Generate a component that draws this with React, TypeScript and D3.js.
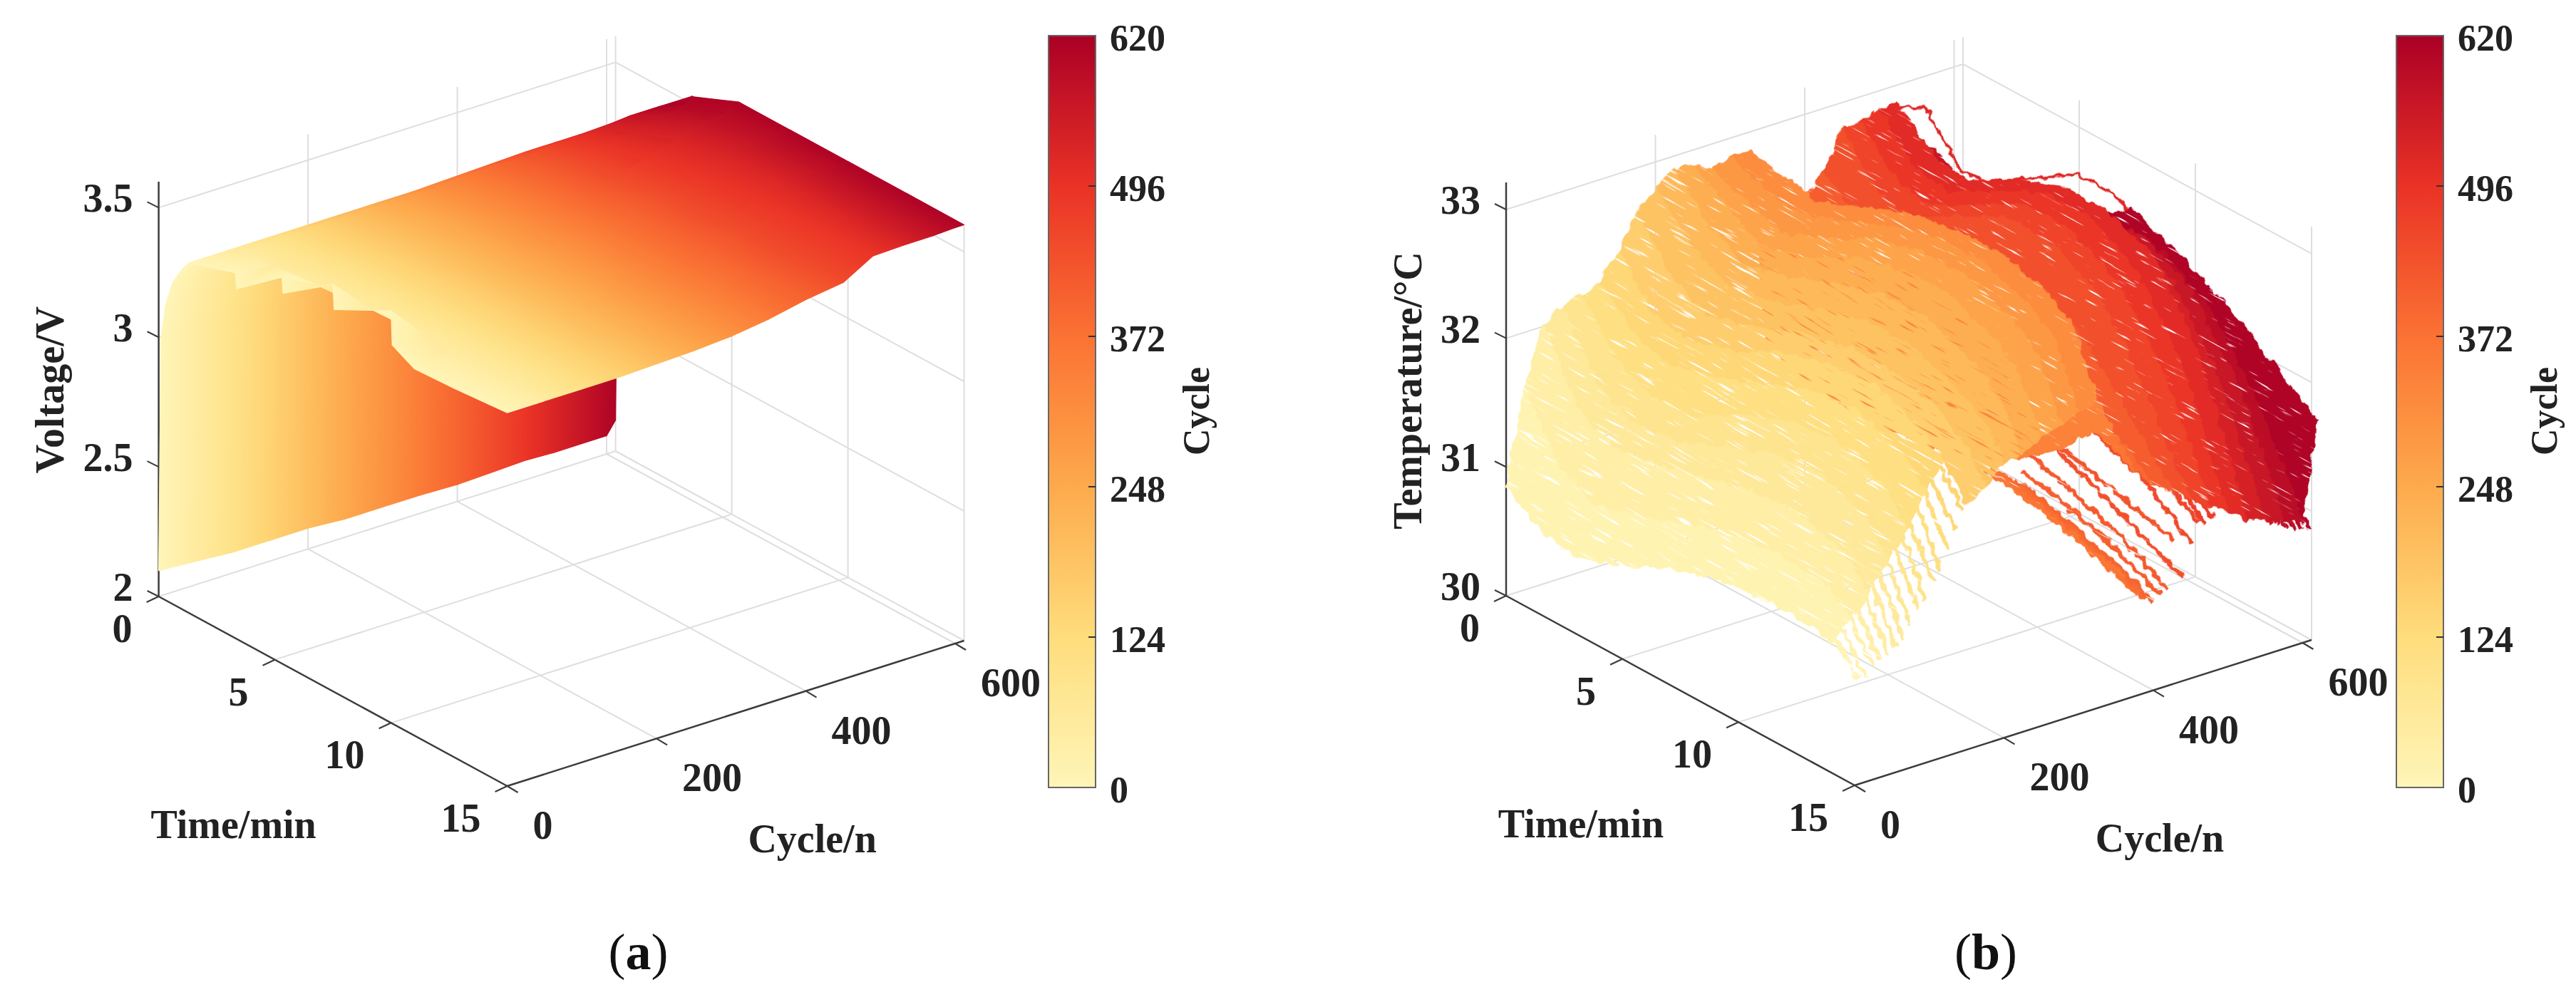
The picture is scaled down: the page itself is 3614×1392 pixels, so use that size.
import React from 'react';
import * as d3 from 'd3';

// tick labels
const timeTicks = [0, 5, 10, 15];
const cycleTicks = [0, 200, 400, 600];
const voltTicks = [2, 2.5, 3, 3.5];
const tempTicks = [30, 31, 32, 33];
const barTicks = [0, 124, 248, 372, 496, 620];
const barColors = ['#fff5b8', '#fedd7c', '#fdaa4c', '#fb7233', '#ea3226', '#ab0026'];

// (a) voltage surface, one row per cycle
const voltTimes = [0, 0.1, 0.3, 0.6, 1, 1.3, 2, 3.3, 3.35, 5.3, 5.35, 7.5, 7.55, 10, 10.05, 11, 12.75, 15];
const voltCycles = [0, 50, 100, 150, 200, 250, 300, 350, 400, 450, 490, 530, 570, 600, 612];
const voltRows = [
  [2.10, 3.00, 3.14, 3.24, 3.31, 3.35, 3.37, 3.41, 3.35, 3.49, 3.43, 3.57, 3.475, 3.59, 3.46, 3.415, 3.423, 3.44],
  [2.09, 3.00, 3.14, 3.24, 3.31, 3.35, 3.38, 3.39, 3.39, 3.41, 3.41, 3.43, 3.43, 3.44, 3.44, 3.44, 3.44, 3.44],
  [2.08, 2.98, 3.13, 3.24, 3.31, 3.35, 3.39, 3.40, 3.40, 3.42, 3.42, 3.43, 3.43, 3.44, 3.44, 3.44, 3.44, 3.44],
  [2.08, 2.98, 3.13, 3.24, 3.31, 3.35, 3.39, 3.40, 3.40, 3.42, 3.42, 3.43, 3.43, 3.44, 3.44, 3.44, 3.44, 3.44],
  [2.08, 2.98, 3.13, 3.24, 3.31, 3.35, 3.39, 3.405, 3.405, 3.42, 3.42, 3.43, 3.43, 3.44, 3.44, 3.44, 3.445, 3.445],
  [2.07, 2.97, 3.12, 3.23, 3.31, 3.35, 3.39, 3.41, 3.41, 3.43, 3.43, 3.44, 3.44, 3.45, 3.45, 3.45, 3.45, 3.45],
  [2.07, 2.97, 3.12, 3.23, 3.31, 3.35, 3.39, 3.41, 3.41, 3.43, 3.43, 3.45, 3.45, 3.455, 3.455, 3.455, 3.46, 3.46],
  [2.07, 2.97, 3.12, 3.23, 3.31, 3.355, 3.40, 3.42, 3.42, 3.44, 3.44, 3.46, 3.46, 3.47, 3.47, 3.47, 3.48, 3.48],
  [2.065, 2.96, 3.11, 3.22, 3.30, 3.36, 3.40, 3.43, 3.43, 3.45, 3.45, 3.48, 3.48, 3.49, 3.49, 3.50, 3.50, 3.51],
  [2.07, 2.96, 3.11, 3.22, 3.30, 3.365, 3.41, 3.44, 3.44, 3.47, 3.47, 3.50, 3.50, 3.52, 3.52, 3.525, 3.53, 3.53],
  [2.075, 2.95, 3.10, 3.22, 3.30, 3.365, 3.415, 3.45, 3.45, 3.50, 3.50, 3.54, 3.54, 3.57, 3.57, 3.58, 3.59, 3.596],
  [2.07, 2.95, 3.10, 3.22, 3.30, 3.365, 3.42, 3.47, 3.47, 3.54, 3.54, 3.58, 3.58, 3.60, 3.60, 3.60, 3.60, 3.60],
  [2.07, 2.95, 3.10, 3.21, 3.29, 3.37, 3.43, 3.49, 3.49, 3.56, 3.56, 3.59, 3.59, 3.60, 3.60, 3.60, 3.60, 3.60],
  [2.07, 2.95, 3.10, 3.21, 3.29, 3.37, 3.43, 3.50, 3.50, 3.585, 3.585, 3.60, 3.60, 3.60, 3.60, 3.60, 3.60, 3.604],
  [2.12, 2.95, 3.10, 3.20, 3.28, 3.34, 3.43, 3.53, 3.53, 3.605, 3.605, 3.605, 3.605, 3.605, 3.605, 3.605, 3.605, 3.604],
];

// (b) temperature curves, one row per cycle group
const tempTimes = [0, 1.5, 3, 5, 7, 9, 11, 13, 14, 15];
const tempCycles = [0, 25, 50, 75, 100, 125, 150, 175, 200, 225, 250, 275, 300, 325, 350, 375, 400, 425, 450, 475, 500, 525, 550, 575, 600, 620];
const tempRows = [
  [30.85, 30.65, 30.6, 30.72, 30.9, 31.02, 31.06, 31.06, 31.0, 30.8],
  [31.55, 31.1, 30.95, 31.05, 31.2, 31.3, 31.35, 31.3, 31.15, 30.88],
  [32.0, 31.5, 31.35, 31.4, 31.5, 31.6, 31.62, 31.5, 31.3, 30.95],
  [32.1, 31.65, 31.5, 31.55, 31.7, 31.85, 31.9, 31.75, 31.5, 31.1],
  [32.15, 31.8, 31.65, 31.7, 31.9, 32.05, 32.1, 31.95, 31.7, 31.3],
  [32.2, 31.95, 31.85, 31.95, 32.1, 32.25, 32.3, 32.15, 31.95, 31.6],
  [32.4, 32.05, 32.0, 32.1, 32.3, 32.4, 32.45, 32.3, 32.15, 31.9],
  [32.65, 32.3, 32.15, 32.25, 32.4, 32.5, 32.5, 32.4, 32.25, 32.0],
  [32.8, 32.5, 32.35, 32.4, 32.55, 32.65, 32.65, 32.5, 32.4, 32.14],
  [32.9, 32.6, 32.45, 32.55, 32.7, 32.8, 32.8, 32.65, 32.5, 32.15],
  [32.88, 32.7, 32.55, 32.65, 32.85, 32.95, 32.95, 32.8, 32.65, 32.25],
  [32.8, 32.7, 32.6, 32.75, 32.95, 33.05, 33.05, 32.9, 32.75, 32.3],
  [32.85, 32.75, 32.7, 32.85, 33.0, 33.1, 33.1, 32.95, 32.8, 32.35],
  [32.85, 32.8, 32.75, 32.9, 33.05, 33.12, 33.12, 33.0, 32.85, 32.4],
  [31.3, 31.2, 31.15, 31.15, 31.2, 31.3, 31.5, 31.8, 32.0, 32.07],
  [31.9, 31.7, 31.6, 31.6, 31.65, 31.75, 31.85, 31.9, 31.85, 31.75],
  [32.35, 32.1, 32.0, 32.05, 32.1, 32.1, 32.05, 31.85, 31.75, 31.6],
  [32.5, 32.3, 32.3, 32.4, 32.5, 32.5, 32.35, 31.95, 31.7, 31.5],
  [32.8, 32.45, 32.4, 32.6, 32.8, 32.8, 32.6, 32.05, 31.7, 31.4],
  [32.8, 32.5, 32.45, 32.65, 32.85, 32.85, 32.65, 32.15, 31.75, 31.3],
  [32.85, 32.55, 32.5, 32.7, 32.9, 32.9, 32.7, 32.15, 31.7, 31.2],
  [32.85, 32.6, 32.55, 32.75, 32.9, 32.9, 32.75, 32.15, 31.65, 31.1],
  [32.5, 32.3, 32.35, 32.55, 32.7, 32.7, 32.5, 31.95, 31.5, 31.05],
  [32.4, 32.2, 32.25, 32.45, 32.6, 32.6, 32.4, 31.85, 31.45, 31.0],
  [32.2, 32.05, 32.1, 32.3, 32.45, 32.45, 32.2, 31.7, 31.35, 30.95],
  [31.9, 31.9, 32.05, 32.3, 32.55, 32.4, 32.2, 31.95, 31.82, 31.7],
];
// the lone curve running above the rest of the dark group
const strandCycle = 520;
const strandTimes = [0, 1.3, 2.9, 3.96, 6.3, 7.9, 9.5, 10.6, 12.9, 15];
const strandTemps = [32.83, 32.96, 32.62, 32.65, 32.9, 33.09, 33.08, 32.97, 32.77, 32.55];

// single curves that hang out of the main mass near the end of charge
const lightTailTimes = [13, 14, 15];
const lightTailCycles = [5, 15, 25, 35, 45, 55, 65, 75, 85, 95, 105, 115, 125, 135, 145];
const lightTailTemps = [
  [31.1, 31.03, 30.82], [31.2, 31.08, 30.79], [31.3, 31.15, 30.88], [31.38, 31.2, 30.9], [31.47, 31.27, 30.93],
  [31.55, 31.35, 30.98], [31.65, 31.42, 31.02], [31.75, 31.5, 31.1], [31.83, 31.6, 31.2], [31.92, 31.66, 31.26],
  [32.0, 31.75, 31.38], [32.07, 31.85, 31.46], [32.15, 31.95, 31.6], [32.2, 32.02, 31.72], [32.27, 32.12, 31.86],
];
const darkTailTimes = [9, 11, 13, 15];
const darkTailCycles = [360, 370, 380, 390, 400, 410, 420, 430, 440, 450, 460, 470, 480, 490, 500, 510, 530, 540, 550, 560, 570, 580, 590, 600, 610];
const darkTailTemps = [
  [31.2, 31.15, 31.05, 30.95], [31.2, 31.1, 30.98, 30.85], [31.15, 31.05, 30.92, 30.78], [31.1, 31.0, 30.87, 30.72], [31.05, 30.96, 30.84, 30.69],
  [31.1, 31.02, 30.9, 30.72], [31.2, 31.1, 30.95, 30.75], [31.4, 31.3, 31.2, 31.1], [31.3, 31.15, 30.98, 30.8], [31.6, 31.5, 31.35, 31.05],
  [31.75, 31.65, 31.45, 31.2], [31.9, 31.75, 31.5, 31.15], [32.0, 31.85, 31.55, 31.2], [32.0, 31.85, 31.6, 31.25], [32.1, 31.95, 31.65, 31.22],
  [32.1, 31.95, 31.6, 31.23], [32.1, 31.9, 31.5, 31.15], [32.1, 31.85, 31.45, 31.12], [32.0, 31.8, 31.4, 31.05], [32.0, 31.75, 31.35, 31.0],
  [31.95, 31.7, 31.3, 30.96], [31.9, 31.65, 31.25, 30.92], [31.9, 31.6, 31.2, 30.9], [31.85, 31.55, 31.2, 30.88], [31.85, 31.55, 31.2, 30.85],
];

const CYCLE_MAX = 612;
const TIME_MAX = 15;
const FONT = '"Liberation Serif", serif';
const INK = '#222';
const GRID = '#dedede';
const AXIS = '#3c3c3c';

const color = d3.scaleLinear<string>().domain(barTicks).range(barColors).clamp(true);

// oblique projection used by MATLAB's view, same for both panels
const cx = d3.scaleLinear().domain([0, CYCLE_MAX]).range([0, 641]);
const cy = d3.scaleLinear().domain([0, CYCLE_MAX]).range([0, -204]);
const tx = d3.scaleLinear().domain([0, TIME_MAX]).range([0, 489]);
const ty = d3.scaleLinear().domain([0, TIME_MAX]).range([0, 266]);

type Pt = [number, number];
const makeProject = (ox: number, oy: number, z: d3.ScaleLinear<number, number>) =>
  (c: number, t: number, v: number): Pt => [ox + cx(c) + tx(t), oy + cy(c) + ty(t) + z(v)];

const poly = d3.line<Pt>();

const Colorbar = ({ id, x }: { id: string; x: number }) => {
  const top = 50;
  const bottom = 1105;
  const w = 66;
  const y = d3.scaleLinear().domain([0, 620]).range([bottom, top]);
  return (
    <g>
      <defs>
        <linearGradient id={`bar${id}`} x1="0" y1="1" x2="0" y2="0">
          {barTicks.map((v, i) => <stop key={v} offset={v / 620} stopColor={barColors[i]} />)}
        </linearGradient>
      </defs>
      <rect x={x} y={top} width={w} height={bottom - top} fill={`url(#bar${id})`} stroke="#666" strokeWidth={2} />
      {barTicks.slice(1, -1).map(v => (
        <line key={v} x1={x + w - 10} x2={x + w} y1={y(v)} y2={y(v)} stroke="#333" strokeWidth={2} />
      ))}
      {barTicks.map(v => (
        <text key={v} x={x + w + 20} y={y(v) + 3} dy=".34em" fontFamily={FONT} fontWeight={700} fontSize={52} fill={INK}>{v}</text>
      ))}
      <text transform={`translate(${x + 207},577) rotate(-90)`} textAnchor="middle" dy=".34em" fontFamily={FONT} fontWeight={700} fontSize={52} fill={INK}>Cycle</text>
    </g>
  );
};

const Frame = ({ id, project, zTicks, zMax, zTitle, letter, barX }: any) => {
  const z0 = zTicks[0];
  const seg = (a: Pt, b: Pt, key: string, stroke = GRID, w = 2) => (
    <line key={key} x1={a[0]} y1={a[1]} x2={b[0]} y2={b[1]} stroke={stroke} strokeWidth={w} />
  );
  const A = project(0, 0, z0);
  const B = project(0, TIME_MAX, z0);
  const C = project(CYCLE_MAX, TIME_MAX, z0);
  const labelStyle = { fontFamily: FONT, fontWeight: 700, fontSize: 56, fill: INK } as const;
  return (
    <g>
      <g>
        {[0, 5, 10].map(t => seg(project(0, t, z0), project(CYCLE_MAX, t, z0), `${id}f${t}`))}
        {cycleTicks.slice(1).concat(CYCLE_MAX).map(c => seg(project(c, 0, z0), project(c, TIME_MAX, z0), `${id}g${c}`))}
        {zTicks.slice(1).map((v: number) => seg(project(0, 0, v), project(CYCLE_MAX, 0, v), `${id}h${v}`))}
        {zTicks.slice(1).map((v: number) => seg(project(CYCLE_MAX, 0, v), project(CYCLE_MAX, TIME_MAX, v), `${id}i${v}`))}
        {cycleTicks.slice(1).concat(CYCLE_MAX).map(c => seg(project(c, 0, z0), project(c, 0, zMax), `${id}j${c}`))}
        {[5, 10, 15].map(t => seg(project(CYCLE_MAX, t, z0), project(CYCLE_MAX, t, zMax), `${id}k${t}`))}
      </g>
      <g>
        {seg(A, project(0, 0, zMax), `${id}az`, AXIS, 2.5)}
        {seg(A, B, `${id}at`, AXIS, 2.5)}
        {seg(B, C, `${id}ac`, AXIS, 2.5)}
        {zTicks.map((v: number) => {
          const p = project(0, 0, v);
          return seg(p, [p[0] - 16, p[1] - 8], `${id}tz${v}`, AXIS, 2.2);
        })}
        {timeTicks.map(t => {
          const p = project(0, t, z0);
          return seg(p, [p[0] - 17, p[1] + 8], `${id}tt${t}`, AXIS, 2.2);
        })}
        {cycleTicks.map(c => {
          const p = project(c, TIME_MAX, z0);
          return seg(p, [p[0] + 15, p[1] + 9], `${id}tc${c}`, AXIS, 2.2);
        })}
      </g>
      {zTicks.map((v: number) => {
        const p = project(0, 0, v);
        return <text key={`${id}lz${v}`} x={p[0] - 36} y={p[1] - 13} dy=".34em" textAnchor="end" {...labelStyle}>{v}</text>;
      })}
      {timeTicks.map(t => {
        const p = project(0, t, z0);
        return <text key={`${id}lt${t}`} x={p[0] - 37} y={p[1] + 45} dy=".34em" textAnchor="end" {...labelStyle}>{t}</text>;
      })}
      {cycleTicks.map(c => {
        const p = project(c, TIME_MAX, z0);
        return <text key={`${id}lc${c}`} x={p[0] + 36} y={p[1] + 55} dy=".34em" {...labelStyle}>{c}</text>;
      })}
      <text x={A[0] + 105} y={A[1] + 320} dy=".34em" textAnchor="middle" {...labelStyle}>Time/min</text>
      <text x={B[0] + 428} y={B[1] + 74} dy=".34em" textAnchor="middle" {...labelStyle}>Cycle/n</text>
      <text transform={`translate(${zTitle.x},${zTitle.y}) rotate(-90)`} textAnchor="middle" dy=".34em" {...labelStyle}>{zTitle.text}</text>
      <text x={B[0] + 184} y={1338} dy=".3em" textAnchor="middle" fontFamily={FONT} fontSize={72} fill="#111">
        (<tspan fontWeight={700}>{letter}</tspan>)
      </text>
      <Colorbar id={id} x={barX} />
    </g>
  );
};

// one gradient per quad, running across the cycle direction of that quad
const VoltageSurface = ({ project }: any) => {
  const defs: React.ReactNode[] = [];
  const quads: React.ReactNode[] = [];
  for (let i = voltCycles.length - 2; i >= 0; i--) {
    const c0 = voltCycles[i];
    const c1 = voltCycles[i + 1];
    for (let j = 0; j < voltTimes.length - 1; j++) {
      const p00 = project(c0, voltTimes[j], voltRows[i][j]);
      const p01 = project(c0, voltTimes[j + 1], voltRows[i][j + 1]);
      const p11 = project(c1, voltTimes[j + 1], voltRows[i + 1][j + 1]);
      const p10 = project(c1, voltTimes[j], voltRows[i + 1][j]);
      const ex = p01[0] - p00[0];
      const ey = p01[1] - p00[1];
      const len = Math.hypot(ex, ey) || 1;
      const nx = -ey / len;
      const ny = ex / len;
      const d = (p10[0] - p00[0]) * nx + (p10[1] - p00[1]) * ny;
      const id = `q${i}_${j}`;
      defs.push(
        <linearGradient key={id} id={id} gradientUnits="userSpaceOnUse"
          x1={p00[0]} y1={p00[1]} x2={p00[0] + nx * d} y2={p00[1] + ny * d}>
          <stop offset="0" stopColor={color(c0)} />
          <stop offset="1" stopColor={color(c1)} />
        </linearGradient>
      );
      quads.push(
        <path key={id} d={poly([p00, p01, p11, p10]) + 'Z'} fill={`url(#${id})`} stroke={`url(#${id})`} strokeWidth={1.2} strokeLinejoin="round" />
      );
    }
  }
  return <g><defs>{defs}</defs>{quads}</g>;
};

// the light cycles stop at 14 min as a block and then go on as single tails
const lastKnot = (cycle: number) => (cycle < 150 ? tempTimes.indexOf(14) : tempTimes.length - 1);

const TemperatureCurves = ({ project }: any) => {
  const items: { c: number; node: React.ReactNode }[] = [];
  for (let i = tempCycles.length - 2; i >= 0; i--) {
    const end = lastKnot(tempCycles[i]) + 1;
    const near = tempTimes.slice(0, end).map((t, j) => project(tempCycles[i], t, tempRows[i][j]));
    const far = tempTimes.slice(0, end).map((t, j) => project(tempCycles[i + 1], t, tempRows[i + 1][j]));
    const mid = (tempCycles[i] + tempCycles[i + 1]) / 2;
    items.push({
      c: mid,
      node: <path key={`s${i}`} d={poly(near.concat(far.reverse())) + 'Z'} fill={color(mid)} stroke={color(mid)} strokeWidth={2} />,
    });
  }
  const addTails = (cycles: number[], times: number[], rows: number[][]) => {
    cycles.forEach((c, i) => {
      const pts = times.map((t, j) => project(c, t, rows[i][j]));
      items.push({
        c,
        node: <path key={`t${c}`} d={poly(pts) ?? ''} fill="none" stroke={color(c)} strokeWidth={6} strokeLinejoin="round" />,
      });
    });
  };
  addTails(lightTailCycles, lightTailTimes, lightTailTemps);
  addTails(darkTailCycles, darkTailTimes, darkTailTemps);
  items.sort((a, b) => b.c - a.c);

  const strand = strandTimes.map((t, j) => project(strandCycle, t, strandTemps[j]));
  const spin = 'rotate(29 2700 500)';
  const unspin = 'rotate(-29 2700 500)';
  const region = { filterUnits: 'userSpaceOnUse', x: 1400, y: -700, width: 2700, height: 2400, colorInterpolationFilters: 'sRGB' } as const;
  const gapFilter = (id: string, freq: string, seed: number, cut: number) => (
    <filter id={id} {...region}>
      <feTurbulence type="fractalNoise" baseFrequency="0.08 0.05" numOctaves="2" seed="4" result="wave" />
      <feDisplacementMap in="SourceGraphic" in2="wave" scale="13" xChannelSelector="R" yChannelSelector="G" result="moved" />
      <feTurbulence type="fractalNoise" baseFrequency={freq} numOctaves="2" seed={seed} />
      <feColorMatrix type="matrix" values={`0 0 0 0 0  0 0 0 0 0  0 0 0 0 0  10 0 0 0 ${-cut}`} result="gaps" />
      <feComposite in="moved" in2="gaps" operator="out" />
    </filter>
  );
  return (
    <g>
      <defs>
        <filter id="ripple" {...region}>
          <feTurbulence type="fractalNoise" baseFrequency="0.08 0.05" numOctaves="2" seed="4" />
          <feDisplacementMap in="SourceGraphic" scale="13" xChannelSelector="R" yChannelSelector="G" />
        </filter>
        {gapFilter('gapsFar', '0.025 0.3', 11, 7.0)}
        {gapFilter('gapsNear', '0.02 0.25', 23, 6.7)}
      </defs>
      <g transform={spin}>
        <g filter="url(#ripple)">
          <g transform={unspin}>
            <path d={poly(strand) ?? ''} fill="none" stroke={color(strandCycle)} strokeWidth={3.5} />
          </g>
        </g>
        <g filter="url(#gapsFar)">
          <g transform={unspin}>{items.filter(d => d.c >= 240).map(d => d.node)}</g>
        </g>
        <g filter="url(#gapsNear)">
          <g transform={unspin}>{items.filter(d => d.c < 240).map(d => d.node)}</g>
        </g>
      </g>
    </g>
  );
};

export default function App() {
  const zVolt = d3.scaleLinear().domain([2, 3.6]).range([0, -582]);
  const zTemp = d3.scaleLinear().domain([30, 33.21]).range([0, -580]);
  const projectA = makeProject(222.6, 837, zVolt);
  const projectB = makeProject(2113, 836, zTemp);
  return (
    <svg width={3614} height={1392} style={{ position: 'absolute', left: 0, top: 0, display: 'block', background: '#fff' }}>
      <Frame id="a" project={projectA} zTicks={voltTicks} zMax={3.6} letter="a" barX={1471}
        zTitle={{ x: 70, y: 547, text: 'Voltage/V' }} />
      <VoltageSurface project={projectA} />
      <Frame id="b" project={projectB} zTicks={tempTicks} zMax={33.21} letter="b" barX={3362}
        zTitle={{ x: 1975, y: 548, text: 'Temperature/°C' }} />
      <TemperatureCurves project={projectB} />
    </svg>
  );
}
